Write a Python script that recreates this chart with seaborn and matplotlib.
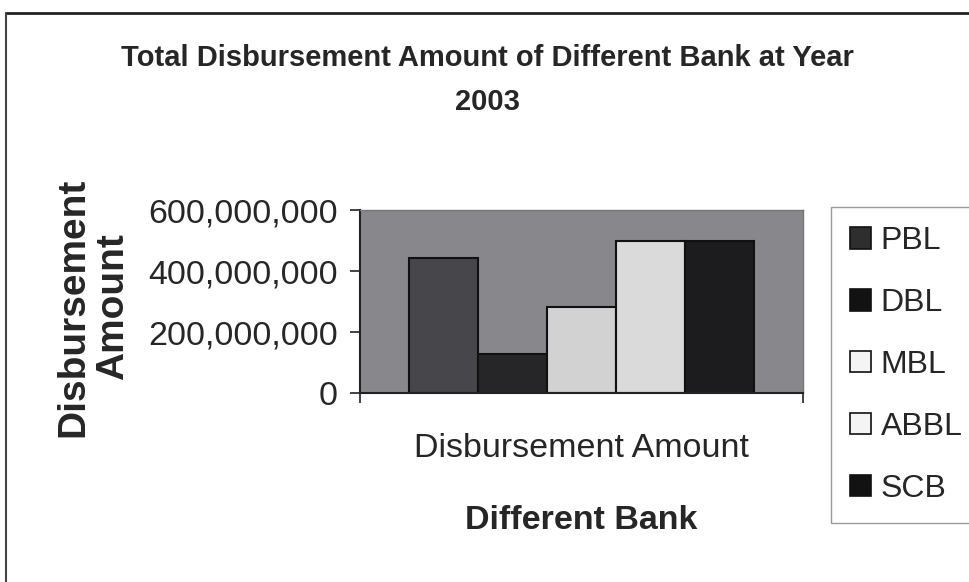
import matplotlib
matplotlib.use("Agg")
import matplotlib.pyplot as plt
from matplotlib.lines import Line2D
from matplotlib.patches import Patch
from matplotlib.ticker import FuncFormatter
import seaborn as sns
import pandas as pd

# ---- data ----
category = ["Disbursement Amount"]
banks = ["PBL", "DBL", "MBL", "ABBL", "SCB"]
values = [443_000_000, 128_000_000, 282_000_000, 498_000_000, 498_000_000]
yticks = [0, 200_000_000, 400_000_000, 600_000_000]
colors = ["#47474b", "#262628", "#d2d2d2", "#dadada", "#1c1c1e"]
legend_colors = ["#2e2e2e", "#121212", "#f4f4f4", "#f4f4f4", "#121212"]

df = pd.DataFrame({"category": category * len(banks), "bank": banks, "value": values})

sns.set_theme(style="white")
plt.rcParams["font.family"] = ["Liberation Sans", "DejaVu Sans"]

fig = plt.figure(figsize=(9.7, 5.82), dpi=100)
ax = fig.add_axes([360 / 970, 1 - 393 / 582, (803 - 360) / 970, (393 - 210) / 582])

sns.barplot(data=df, x="category", y="value", hue="bank", palette=colors,
            width=0.78, edgecolor="#111111", linewidth=1.5, ax=ax, legend=False,
            saturation=1)

ax.set_facecolor("#88878b")
ax.set_xlim(-0.5, 0.5)
ax.set_ylim(0, 600_000_000)
ax.set_yticks(yticks)
ax.yaxis.set_major_formatter(FuncFormatter(lambda v, p: f"{int(v):,}"))
ax.tick_params(axis="y", direction="out", length=7, width=1.2, color="#222222",
               labelsize=24.5, pad=9, left=True)
ax.set_xticks([0])
ax.set_xticklabels(category, fontsize=24.5)
ax.tick_params(axis="x", length=0, pad=29)
ax.set_xticks([-0.5, 0.5], minor=True)
ax.tick_params(axis="x", which="minor", direction="out", length=7, width=1.2,
               color="#222222", bottom=True)
ax.set_xlabel("Different Bank", fontsize=24.5, fontweight="bold", labelpad=29.5)
ax.set_ylabel("")
for side in ["left", "bottom"]:
    ax.spines[side].set_color("#222222")
    ax.spines[side].set_linewidth(1.5)
for side in ["top", "right"]:
    ax.spines[side].set_color("#777777")
    ax.spines[side].set_linewidth(1.0)

# y axis title (two lines, rotated)
fig.text(93 / 970, 1 - 307 / 582, "Disbursement\nAmount", rotation=90,
         ha="center", va="center", fontsize=28, fontweight="bold",
         linespacing=1.15)

# title
fig.text(487 / 970, 1 - 80 / 582,
         "Total Disbursement Amount of Different Bank at Year\n2003",
         ha="center", va="center", fontsize=21, fontweight="bold",
         linespacing=1.75)

# legend
handles = [Patch(facecolor=c, edgecolor="#111111", linewidth=1.2) for c in legend_colors]
leg = fig.legend(handles, banks, loc="upper left",
                 bbox_to_anchor=(831 / 970, 1 - 207 / 582),
                 fontsize=23, frameon=True, fancybox=False, framealpha=1,
                 edgecolor="#999999", handlelength=0.65, handleheight=0.65,
                 handletextpad=0.3, labelspacing=1.0, borderpad=0.6,
                 borderaxespad=0)
leg.get_frame().set_linewidth(1.0)

# outer frame lines (top and left)
fig.add_artist(Line2D([6 / 970, 1.0], [1 - 13 / 582, 1 - 13 / 582],
                      transform=fig.transFigure, color="#222222", linewidth=2))
fig.add_artist(Line2D([6 / 970, 6 / 970], [0, 1 - 13 / 582],
                      transform=fig.transFigure, color="#444444", linewidth=1.5))

fig.savefig("out.png", dpi=100)
